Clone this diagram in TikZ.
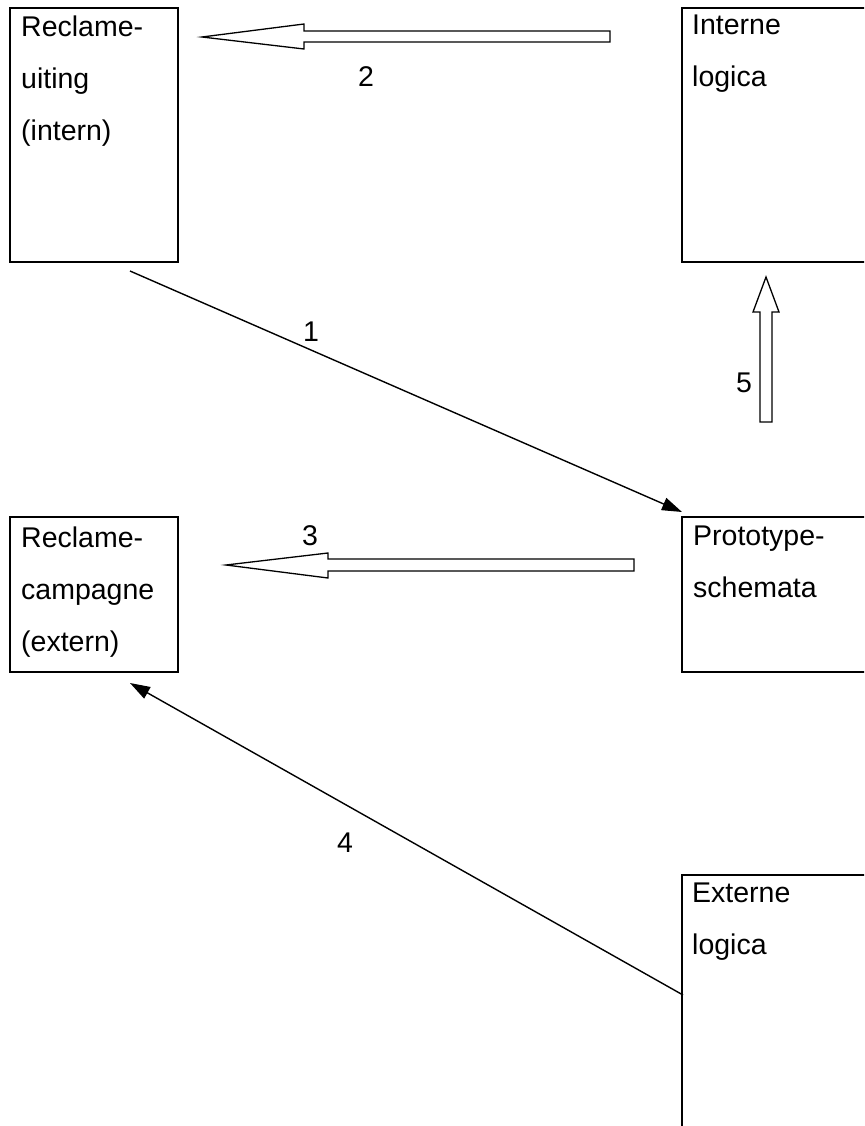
\documentclass[tikz,border=0pt]{standalone}
\usepackage{fontspec}
\setmainfont{Liberation Sans}
\usetikzlibrary{arrows.meta}
\begin{document}
\begin{tikzpicture}[x=1pt,y=-1pt,
  box/.style={draw,line width=2.2pt,inner sep=0pt,outer sep=0pt,anchor=north west},
  txt/.style={anchor=base west,inner sep=0pt,font=\fontsize{28.5}{34}\selectfont},
  num/.style={anchor=base,inner sep=0pt,font=\fontsize{28.5}{34}\selectfont},
  hollow/.style={draw,line width=1.3pt,fill=white,line join=miter},
  conn/.style={line width=1.4pt,-{Triangle[length=20pt,width=13pt]}}]
\useasboundingbox (0,0) rectangle (864,1126);
\clip (0,0) rectangle (864,1126);
% boxes
\node[box,minimum width=168pt,minimum height=254pt] (ru) at (10,8) {};
\node[box,minimum width=250pt,minimum height=254pt] (il) at (682,8) {};
\node[box,minimum width=250pt,minimum height=155pt] (ps) at (682,517) {};
\node[box,minimum width=168pt,minimum height=155pt] (rc) at (10,517) {};
\node[box,minimum width=250pt,minimum height=300pt] (el) at (682,875) {};
% texts
\node[txt] (tru1) at (21,37) {Reclame-};
\node[txt] (tru2) at (21,89) {uiting};
\node[txt] (tru3) at (21,141) {(intern)};
\node[txt] (til1) at (692,35) {Interne};
\node[txt] (til2) at (692,87) {logica};
\node[txt] (tps1) at (693,545) {Prototype-};
\node[txt] (tps2) at (693,597) {schemata};
\node[txt] (trc1) at (21,547) {Reclame-};
\node[txt] (trc2) at (21,599) {campagne};
\node[txt] (trc3) at (21,651) {(extern)};
\node[txt] (tel1) at (692,902) {Externe};
\node[txt] (tel2) at (692,954) {logica};
% hollow arrows
\draw[hollow] (610,31) -- (304,31) -- (304,24) -- (202,37) -- (304,49) -- (304,42) -- (610,42) -- cycle;
\draw[hollow] (634,559) -- (328,559) -- (328,553) -- (226,565) -- (328,578) -- (328,571) -- (634,571) -- cycle;
\draw[hollow] (760,422) -- (760,312) -- (753,312) -- (766,277) -- (779,312) -- (772,312) -- (772,422) -- cycle;
% line connectors
\coordinate (a1s) at (130,271);
\coordinate (a1e) at (682,512);
\coordinate (a4s) at (683,995);
\coordinate (a4e) at (130,683);
\draw[conn] (a1s) -- (a1e);
\draw[conn] (a4s) -- (a4e);
% labels
\node[num] (n1) at (311,341) {1};
\node[num] (n2) at (366,87) {2};
\node[num] (n3) at (310,545) {3};
\node[num] (n4) at (345,852) {4};
\node[num] (n5) at (744,392) {5};
\end{tikzpicture}
\end{document}
